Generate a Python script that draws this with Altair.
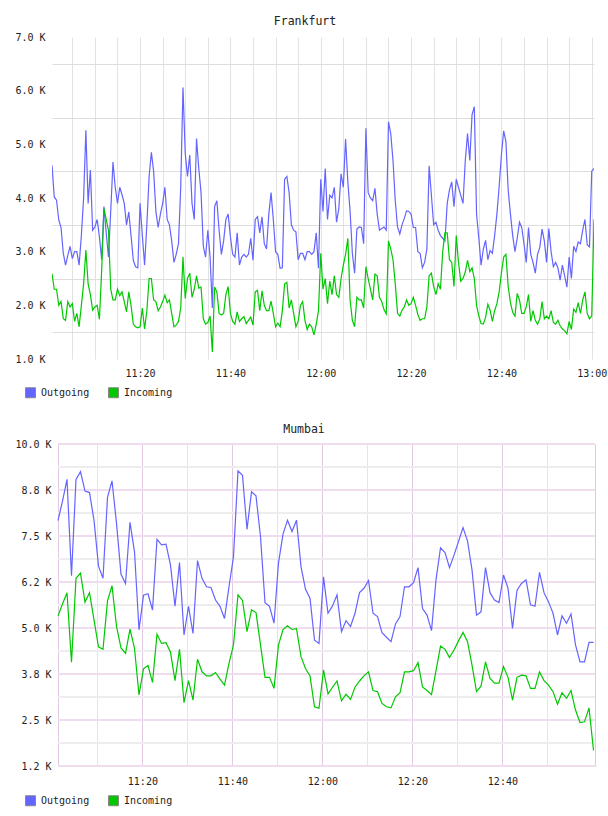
import altair as alt
import pandas as pd

FONT = "DejaVu Sans Mono"
SERIES = ["Outgoing", "Incoming"]
COLORS = ["#6464ff", "#00c800"]

# ---- Frankfurt: 30 s samples, 11:00:30 .. 13:00:30, values in K ----
fra_start = 0.5      # minutes after 11:00
fra_step = 0.5
fra_out = [
    4.61, 4.02, 3.96, 3.59, 3.45, 2.97, 2.75, 2.93, 3.1, 2.87,
    3.0, 3.0, 2.75, 3.3, 4.0, 5.26, 3.9, 4.52, 3.4, 3.46,
    3.6, 3.28, 2.85, 3.84, 3.35, 2.9, 3.75, 4.67, 4.2, 3.9,
    4.2, 4.06, 3.9, 3.5, 3.74, 3.3, 2.84, 2.72, 2.7, 3.9,
    3.3, 2.75, 3.5, 4.4, 4.85, 4.5, 3.75, 3.45, 3.7, 3.9,
    4.2, 3.6, 3.5, 3.2, 2.8, 2.95, 3.15, 4.2, 6.06, 4.83,
    4.4, 4.8, 3.9, 3.6, 5.11, 4.55, 4.1, 3.1, 2.9, 3.4,
    2.9, 1.95, 3.84, 3.95, 3.4, 2.95, 3.2, 3.6, 3.7, 3.28,
    2.95, 2.9, 3.35, 2.75, 2.9, 2.95, 2.9, 2.95, 3.25, 2.84,
    3.6, 3.65, 3.35, 3.65, 3.15, 3.05, 3.7, 4.1, 3.6, 3.0,
    2.95, 2.69, 2.7, 4.35, 4.4, 4.1, 3.5, 3.4, 3.37, 2.85,
    2.97, 2.97, 2.85, 3.0, 3.0, 2.95, 3.0, 3.35, 2.69, 4.35,
    3.75, 4.55, 3.6, 4.05, 4.0, 4.2, 3.55, 3.8, 4.45, 4.2,
    5.1, 4.3, 3.75, 2.97, 2.6, 3.42, 3.46, 3.45, 3.15, 5.3,
    4.1, 4.0, 3.95, 4.18, 3.7, 3.4, 3.43, 3.46, 3.4, 5.42,
    5.2, 4.7, 3.95, 3.46, 3.33, 3.5, 3.62, 3.76, 3.75, 3.7,
    3.45, 3.45, 3.0, 2.97, 2.7, 2.8, 3.05, 4.6, 4.05, 3.5,
    3.55, 3.4, 3.3, 3.25, 3.2, 3.9, 4.15, 4.3, 3.84, 4.35,
    4.2, 4.05, 3.9, 4.7, 5.2, 4.7, 5.55, 5.7, 3.7, 3.25,
    2.75, 3.05, 3.21, 2.85, 3.02, 2.97, 3.3, 3.7, 4.21, 4.8,
    5.25, 5.05, 4.15, 3.7, 3.3, 3.0, 3.25, 3.55, 3.45, 3.15,
    2.8, 3.45, 2.95, 2.8, 2.6, 2.95, 3.08, 3.42, 3.2, 2.8,
    3.43, 3.0, 2.72, 2.8, 2.7, 2.47, 2.75, 2.55, 2.34, 2.9,
    2.5, 3.1, 3.0, 3.18, 3.15, 3.4, 3.6, 3.13, 3.09, 4.5,
    4.55,
]
fra_in = [
    2.59, 2.3, 2.3, 2.0, 2.07, 1.75, 1.72, 2.07, 1.97, 2.03,
    1.7, 1.85, 1.6, 2.0, 2.4, 3.03, 2.4, 2.2, 1.91, 1.97,
    2.0, 1.74, 2.66, 3.8, 3.6, 3.4, 2.3, 2.1, 2.1, 2.3,
    2.18, 2.25, 2.07, 1.88, 2.25, 2.0, 1.65, 1.6, 1.58, 1.6,
    1.95, 1.56, 1.9, 2.5, 2.5, 2.1, 2.07, 1.9, 1.97, 2.07,
    2.19, 2.05, 2.1, 1.85, 1.6, 1.63, 1.7, 1.95, 2.9, 2.13,
    2.5, 2.6, 2.15, 2.3, 2.55, 2.32, 2.34, 1.75, 1.65, 1.68,
    1.8, 1.13, 2.34, 2.25, 1.85, 1.82, 1.85, 2.2, 2.35, 1.85,
    1.7, 1.65, 1.88, 1.7, 1.75, 1.79, 1.66, 1.72, 1.78, 1.63,
    2.25, 2.28, 1.9, 2.27, 2.0, 1.9, 1.9, 2.08, 1.85, 1.6,
    1.67, 1.6, 1.9, 2.4, 2.43, 1.95, 2.1, 1.85, 1.6, 1.7,
    2.0, 2.07, 1.72, 1.55, 1.65, 1.6, 1.45, 1.65, 1.9, 2.97,
    2.3, 2.5, 2.03, 2.45, 2.2, 2.55, 2.2, 2.15, 2.5, 2.75,
    2.95, 3.25, 2.1, 1.72, 1.6, 2.15, 2.1, 2.1, 1.95, 2.72,
    2.5, 2.3, 2.1, 2.58, 2.55, 2.15, 2.07, 1.92, 1.84, 3.2,
    3.05, 2.85, 2.4, 1.85, 1.8, 1.91, 1.97, 2.1, 2.0, 2.03,
    2.15, 2.0, 1.83, 1.72, 1.75, 1.75, 1.97, 2.55, 2.6, 2.35,
    2.2, 2.4, 2.3, 3.0, 3.35, 3.35, 2.85, 2.8, 2.35, 3.3,
    2.8, 2.45, 2.5, 2.62, 2.84, 2.63, 2.7, 2.5, 2.0, 1.8,
    1.66, 1.65, 1.78, 2.02, 1.91, 1.7, 1.9, 2.03, 2.25, 2.6,
    2.9, 2.95, 2.35, 2.05, 1.87, 1.8, 2.22, 2.1, 1.85, 1.85,
    1.97, 2.2, 1.7, 1.9, 1.72, 1.65, 1.75, 2.07, 1.75, 1.8,
    1.75, 1.9, 1.68, 1.65, 1.72, 1.62, 1.56, 1.53, 1.47, 1.7,
    1.55, 1.93, 1.87, 2.05, 1.85, 2.1, 2.25, 1.85, 1.75, 1.8,
    3.6,
]

# ---- Mumbai: 1 min samples from 11:01:15 to 13:00:15, values in K ----
mum_start = 1.25
mum_step = 1.0
mum_end = 120.58     # right edge of the Mumbai time window (minutes after 11:00)
mum_out = [
    7.92, 8.45, 9.04, 6.42, 9.04, 9.25, 8.72, 8.68, 7.93, 6.68,
    6.35, 8.55, 9.0, 7.85, 6.46, 6.21, 7.87, 7.07, 4.95, 5.89,
    5.93, 5.49, 7.41, 7.26, 7.28, 6.71, 5.59, 6.78, 4.81, 5.59,
    4.85, 6.83, 6.35, 6.12, 6.1, 5.76, 5.59, 5.26, 6.12, 6.94,
    9.27, 9.15, 7.68, 8.7, 8.59, 7.48, 5.69, 5.59, 5.13, 6.77,
    7.55, 7.93, 7.62, 7.93, 6.67, 6.05, 5.81, 4.67, 4.58, 6.39,
    5.4, 5.6, 5.9, 4.9, 5.2, 5.04, 5.4, 5.96, 6.08, 6.29,
    5.4, 5.31, 4.87, 4.75, 4.63, 5.11, 5.31, 6.12, 6.12, 6.23,
    6.64, 5.53, 5.35, 4.93, 6.31, 7.18, 7.05, 6.64, 6.98, 7.35,
    7.73, 7.37, 6.58, 5.35, 5.44, 6.64, 5.96, 5.76, 5.69, 6.44,
    6.08, 4.99, 6.03, 6.21, 6.31, 5.63, 5.59, 6.51, 5.96, 5.71,
    5.4, 4.81, 5.33, 5.13, 5.38, 4.54, 4.08, 4.08, 4.61, 4.61,
]
mum_in = [
    5.33, 5.65, 5.96, 4.07, 6.35, 6.49, 5.7, 5.96, 5.22, 4.49,
    4.42, 5.74, 6.15, 5.04, 4.46, 4.31, 4.97, 4.45, 3.18, 3.89,
    3.98, 3.52, 4.83, 4.58, 4.6, 4.34, 3.57, 4.42, 2.97, 3.57,
    3.04, 4.15, 3.81, 3.7, 3.7, 3.79, 3.61, 3.45, 4.04, 4.54,
    5.9, 5.75, 4.9, 5.49, 5.42, 4.54, 3.66, 3.66, 3.36, 4.54,
    4.96, 5.06, 4.96, 4.98, 4.22, 3.9, 3.7, 2.86, 2.82, 3.86,
    3.21, 3.39, 3.56, 3.02, 3.2, 3.06, 3.39, 3.56, 3.7, 3.81,
    3.3, 3.27, 2.95, 2.86, 2.83, 3.13, 3.24, 3.81, 3.81, 3.84,
    4.06, 3.4, 3.3, 3.19, 3.84, 4.51, 4.42, 4.2, 4.4, 4.65,
    4.88, 4.63, 3.99, 3.27, 3.42, 4.08, 3.63, 3.5, 3.5, 3.95,
    3.66, 3.04, 3.66, 3.72, 3.7, 3.36, 3.36, 3.81, 3.57, 3.45,
    3.27, 2.93, 3.24, 3.09, 3.3, 2.77, 2.43, 2.45, 2.83, 1.67,
]

# ---- axis ticks and labels ----
x_grid_minutes = list(range(5, 125, 5))
x_label_minutes = [20, 40, 60, 80, 100, 120]
x_labels = ["11:20", "11:40", "12:00", "12:20", "12:40", "13:00"]

fra_y_label_values = [1000, 2000, 3000, 4000, 5000, 6000, 7000]
fra_y_labels = ["1.0 K", "2.0 K", "3.0 K", "4.0 K", "5.0 K", "6.0 K", "7.0 K"]
fra_y_grid_values = [1500, 2500, 3500, 4500, 5500, 6500]

mum_y_label_values = [1250, 2500, 3750, 5000, 6250, 7500, 8750, 10000]
mum_y_labels = ["1.2 K", "2.5 K", "3.8 K", "5.0 K", "6.2 K", "7.5 K", "8.8 K", "10.0 K"]
mum_y_minor_values = [1875, 3125, 4375, 5625, 6875, 8125, 9375]

MUM_MAJOR = "#efdcef"
MUM_MINOR = "#ededed"
MUM_FRAME = "#e2c8e2"


def to_frame(start, step, out_vals, in_vals):
    rows = []
    for name, vals in zip(SERIES, [out_vals, in_vals]):
        for i, v in enumerate(vals):
            rows.append({"minute": start + step * i, "value": v * 1000, "series": name})
    return pd.DataFrame(rows)


def label_expr(values, labels):
    expr = "''"
    for v, lab in reversed(list(zip(values, labels))):
        expr = f"datum.value == {v} ? '{lab}' : {expr}"
    return expr


def x_enc(dom, values, pad, major_test, major, minor):
    return alt.X(
        "minute:Q",
        scale=alt.Scale(domain=dom, nice=False, zero=False),
        axis=alt.Axis(
            values=values, labelExpr=label_expr(x_label_minutes, x_labels),
            title=None, ticks=False, domain=False, labelOverlap=False,
            labelFont=FONT, labelFontSize=10, labelColor="#222", labelPadding=pad,
            grid=True,
            gridColor={"condition": {"test": major_test, "value": major}, "value": minor},
            gridWidth=1,
        ),
    )


def y_enc(dom, values, lab_values, labs, pad, grid, grid_color=None):
    kw = dict(gridColor=grid_color) if grid_color is not None else {}
    return alt.Y(
        "value:Q",
        scale=alt.Scale(domain=dom, nice=False, zero=False),
        axis=alt.Axis(
            values=values, labelExpr=label_expr(lab_values, labs),
            title=None, ticks=False, domain=False, labelOverlap=False,
            labelFont=FONT, labelFontSize=10, labelColor="#222", labelPadding=pad,
            grid=grid, gridWidth=1, **kw,
        ),
    )


def series_layers(df, x, y, lx, ly):
    base = alt.Chart(df)
    # legend carrier: filled squares with a grey outline, no marks drawn
    keys = (
        base.transform_calculate(key="datum.series")
        .transform_filter("false")
        .mark_square(size=100)
        .encode(
            x=x, y=y,
            fill=alt.Fill(
                "key:N", scale=alt.Scale(domain=SERIES, range=COLORS),
                legend=alt.Legend(
                    title=None, orient="none", legendX=lx, legendY=ly,
                    direction="horizontal",
                    symbolType="square", symbolSize=100, symbolOpacity=1,
                    symbolStrokeColor="#888888", symbolStrokeWidth=1,
                    labelFont=FONT, labelFontSize=10, labelColor="#222",
                    labelOffset=5, columnPadding=16,
                ),
            ),
        )
    )
    lines = [
        base.transform_filter(alt.datum.series == name)
        .mark_line(stroke=col, strokeWidth=1.2, clip=True)
        .encode(x=x, y=y, order="minute:Q")
        for name, col in zip(SERIES, COLORS)
    ]
    return lines + [keys]


def title(text, dx, offset):
    return alt.TitleParams(
        text=text, font=FONT, fontSize=11.5, fontWeight="normal",
        color="#222", anchor="middle", frame="group", dx=dx, offset=offset,
    )


# ---------------- Frankfurt ----------------
fra_df = to_frame(fra_start, fra_step, fra_out, fra_in)
fx = x_enc([0.5, 120.5], x_grid_minutes, 9, "false", "#e2e2e2", "#e2e2e2")
fy = y_enc(
    [1000, 7000], sorted(fra_y_label_values + fra_y_grid_values),
    fra_y_label_values, fra_y_labels, 7, True,
    {"condition": {"test": "datum.value % 1000 == 0", "value": "transparent"},
     "value": "#dddddd"},
)
frankfurt = alt.layer(*series_layers(fra_df, fx, fy, -27, 350)).properties(
    width=542, height=322, view=alt.ViewBackground(stroke="transparent"),
    title=title("Frankfurt", -18, 5),
)

# ---------------- Mumbai ----------------
mum_df = to_frame(mum_start, mum_step, mum_out, mum_in)
# plot band starts a little before the first sample; the framed window is
# [mum_start, mum_end]
mum_dom = [mum_start - 6 / 4.5, mum_end]
mx_values = [mum_start] + x_grid_minutes[:-1] + [mum_end]
mx = x_enc(
    mum_dom, mx_values, 10,
    f"datum.value % 20 == 0 || datum.value == {mum_start} || datum.value == {mum_end}",
    MUM_FRAME, "#e4e4e4",
)
my = y_enc(
    [1250, 10000], mum_y_label_values, mum_y_label_values, mum_y_labels, 1, False,
)
hgrid = pd.DataFrame(
    [{"value": v, "kind": "major", "x0": mum_start, "x1": mum_end} for v in mum_y_label_values]
    + [{"value": v, "kind": "minor", "x0": mum_start, "x1": mum_end} for v in mum_y_minor_values]
)
hlines = alt.Chart(hgrid).mark_rule(strokeWidth=2).encode(
    x=alt.X("x0:Q", scale=alt.Scale(domain=mum_dom, nice=False, zero=False)),
    x2="x1:Q",
    y=alt.Y("value:Q"),
    color=alt.Color("kind:N", scale=alt.Scale(domain=["major", "minor"],
                                              range=[MUM_MAJOR, MUM_MINOR]),
                    legend=None),
)
mumbai = alt.layer(hlines, *series_layers(mum_df, mx, my, -27, 351)).properties(
    width=543, height=322, view=alt.ViewBackground(stroke="transparent"),
    title=title("Mumbai", -19.5, 4),
)

chart = (
    alt.vconcat(frankfurt, mumbai, spacing=22)
    .resolve_scale(x="independent", y="independent", fill="independent",
                   color="independent")
    .resolve_legend(fill="independent")
    .properties(padding={"left": 14, "top": 15, "right": 0, "bottom": 0},
                background="white")
)

chart.save("out.html", embed_options={"renderer": "svg", "actions": False})
